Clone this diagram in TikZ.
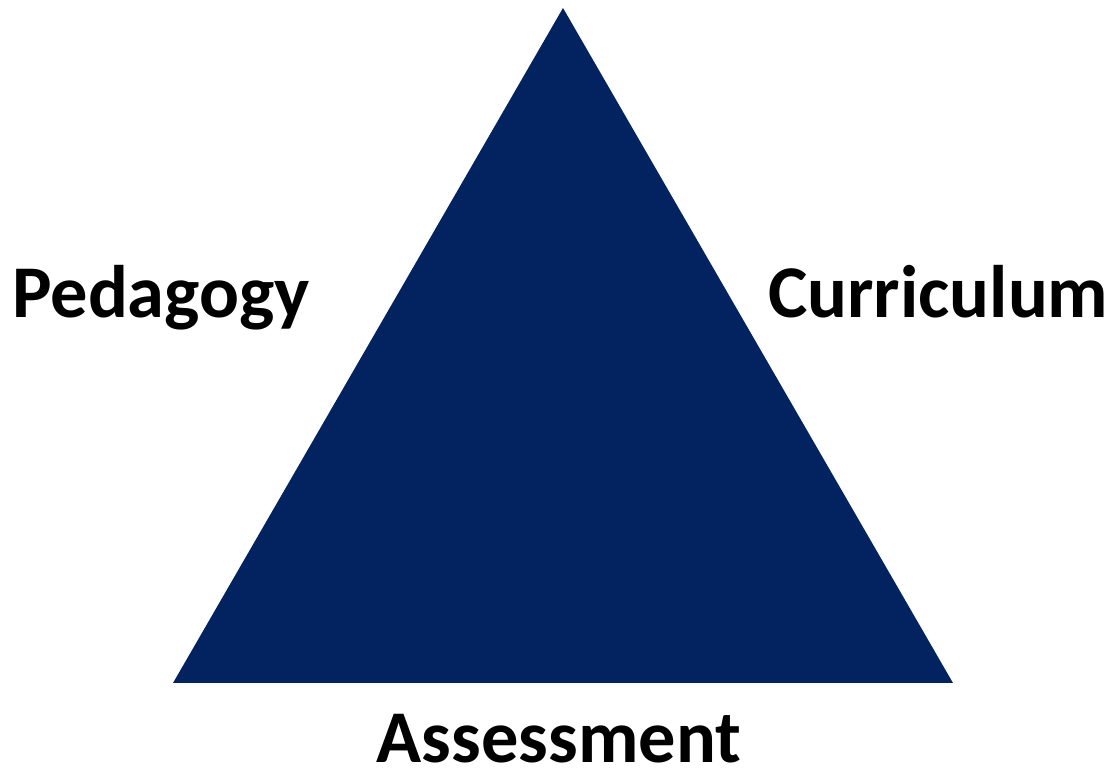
\documentclass[tikz,border=0pt]{standalone}
\usepackage{xcolor}
\usepackage{fontspec}
\setmainfont{Carlito}
\usepackage{tikz}

\definecolor{triblue}{HTML}{022360}

\begin{document}
\begin{tikzpicture}[x=1pt, y=1pt,
  cornertext/.style={inner sep=0pt, font=\fontsize{74.4}{80}\selectfont\bfseries}]
\useasboundingbox (0, 0) rectangle (1110, 773);
\coordinate (top) at (563, 765);
\coordinate (left) at (173, 90);
\coordinate (right) at (953, 90);
\fill[triblue] (top) -- (left) -- (right) -- cycle;
\node[cornertext, anchor=base west] (ped) at (12, 455) {Pedagogy};
\node[cornertext, anchor=base west] (cur) at (768, 455) {Curriculum};
\node[cornertext, anchor=base] (ass) at (559, 10) {Assessment};
\end{tikzpicture}
\end{document}
